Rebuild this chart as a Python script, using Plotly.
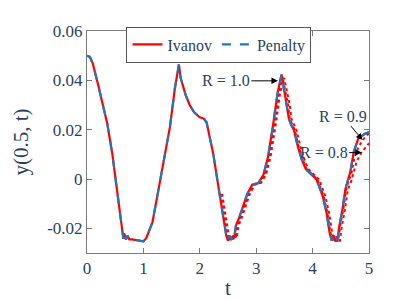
import plotly.graph_objects as go

# ---- data ----
t_main = [0, 0.05, 0.1, 0.15, 0.2, 0.25, 0.3, 0.36, 0.45, 0.55, 0.645, 0.66, 0.69, 0.72, 0.75,
          0.8, 0.9, 1.0, 1.05, 1.1, 1.16, 1.27, 1.38, 1.47, 1.56, 1.63, 1.66, 1.7, 1.75, 1.82,
          1.9, 2.0, 2.07, 2.12, 2.17, 2.24, 2.35, 2.47, 2.5, 2.53, 2.56, 2.59, 2.61, 2.64, 2.7,
          2.78, 2.84, 2.93, 3.04, 3.13, 3.21, 3.3, 3.38, 3.45, 3.5, 3.55, 3.58, 3.62, 3.67,
          3.74, 3.81, 3.88, 3.96, 4.07, 4.18, 4.25, 4.3, 4.34, 4.37, 4.4, 4.44, 4.47, 4.53,
          4.58, 4.62, 4.67, 4.73, 4.81, 4.93, 5.0]
y_ivanov = [0.05, 0.0495, 0.047, 0.043, 0.038, 0.033, 0.028, 0.0224, 0.010, -0.007, -0.0243,
            -0.022, -0.0245, -0.023, -0.0245, -0.0245, -0.025, -0.0253, -0.024, -0.021, -0.0176,
            -0.004, 0.009, 0.021, 0.037, 0.0464, 0.041, 0.038, 0.034, 0.030, 0.027, 0.025,
            0.0245, 0.023, 0.018, 0.010, -0.006, -0.023, -0.025, -0.023, -0.0245, -0.023,
            -0.024, -0.019, -0.0156, -0.010, -0.0062, -0.0023, -0.0016, 0.0018, 0.009, 0.022,
            0.035, 0.0424, 0.0358, 0.030, 0.0244, 0.022, 0.0198, 0.013, 0.0078, 0.004, 0.0024,
            -0.0002, -0.0069, -0.014, -0.0216, -0.025, -0.023, -0.025, -0.025, -0.0196,
            -0.0122, -0.0042, -0.001, 0.003, 0.011, 0.0164, 0.0184, 0.019]
y_penalty = [0.05, 0.0495, 0.047, 0.043, 0.038, 0.033, 0.028, 0.0224, 0.010, -0.007, -0.0243,
             -0.022, -0.0245, -0.023, -0.0245, -0.0245, -0.025, -0.0253, -0.024, -0.021, -0.0176,
             -0.004, 0.009, 0.021, 0.037, 0.0464, 0.041, 0.038, 0.034, 0.030, 0.027, 0.025,
             0.0245, 0.023, 0.018, 0.010, -0.006, -0.023, -0.025, -0.023, -0.0245, -0.023,
             -0.024, -0.019, -0.0156, -0.010, -0.0062, -0.0023, -0.0016, 0.0018, 0.009, 0.022,
             0.035, 0.0424, 0.0358, 0.030, 0.0244, 0.022, 0.0198, 0.013, 0.0078, 0.004, 0.0024,
             -0.0002, -0.0069, -0.014, -0.0216, -0.025, -0.023, -0.025, -0.025, -0.0196,
             -0.0122, -0.0042, -0.001, 0.003, 0.011, 0.0164, 0.0184, 0.019]

t_r09 = [2.37, 2.49, 2.52, 2.55, 2.58, 2.61, 2.63, 2.66, 2.72, 2.8, 2.86, 2.95, 3.06, 3.15,
         3.23, 3.32, 3.4, 3.465, 3.515, 3.565, 3.595, 3.635, 3.685, 3.755, 3.825, 3.895,
         3.975, 4.085, 4.195, 4.265, 4.315, 4.355, 4.385, 4.415, 4.455, 4.485, 4.545, 4.595,
         4.635, 4.685, 4.745, 4.825, 4.945, 5.0]
y_r09 = [-0.006, -0.023, -0.025, -0.023, -0.0245, -0.023, -0.024, -0.019, -0.0156, -0.010,
         -0.0062, -0.0023, -0.0016, 0.0018, 0.009, 0.022, 0.035, 0.0415, 0.0355, 0.030,
         0.0244, 0.022, 0.0198, 0.013, 0.0078, 0.004, 0.0024, -0.0002, -0.0069, -0.014,
         -0.0216, -0.025, -0.023, -0.025, -0.025, -0.0196, -0.0122, -0.0042, -0.001, 0.002,
         0.009, 0.0135, 0.0175, 0.0185]

t_r08 = [2.395, 2.515, 2.545, 2.575, 2.605, 2.635, 2.655, 2.685, 2.745, 2.825, 2.885, 2.975,
         3.085, 3.175, 3.255, 3.345, 3.425, 3.495, 3.545, 3.595, 3.625, 3.665, 3.715, 3.785,
         3.855, 3.925, 4.005, 4.115, 4.225, 4.295, 4.345, 4.385, 4.415, 4.445, 4.485, 4.515,
         4.575, 4.625, 4.67, 4.72, 4.78, 4.86, 4.94, 5.0]
y_r08 = [-0.006, -0.023, -0.025, -0.023, -0.0245, -0.023, -0.024, -0.019, -0.0156, -0.010,
         -0.0062, -0.0023, -0.0016, 0.0018, 0.009, 0.022, 0.035, 0.041, 0.0355, 0.030,
         0.0244, 0.022, 0.0198, 0.013, 0.0078, 0.004, 0.0024, -0.0002, -0.0069, -0.014,
         -0.0216, -0.025, -0.023, -0.025, -0.025, -0.0196, -0.0122, -0.0042, -0.002, 0.002,
         0.007, 0.0105, 0.013, 0.0145]

x_ticks = [0, 1, 2, 3, 4, 5]
y_ticks = [0.06, 0.04, 0.02, 0, -0.02]
y_ticklabels = ["0.06", "0.04", "0.02", "0", "-0.02"]

FONT = "Liberation Serif"
RED = "#ff0000"
BLUE = "#1f77c4"
AX = "#7a7a7a"

fig = go.Figure()
fig.add_trace(go.Scatter(x=t_r09, y=y_r09, mode="lines", showlegend=False,
                         line=dict(color=RED, width=2, dash="dot")))
fig.add_trace(go.Scatter(x=t_r08, y=y_r08, mode="lines", showlegend=False,
                         line=dict(color=RED, width=2, dash="dot")))
fig.add_trace(go.Scatter(x=t_main, y=y_ivanov, mode="lines", name="Ivanov",
                         line=dict(color=RED, width=2.2)))
fig.add_trace(go.Scatter(x=t_main, y=y_penalty, mode="lines", name="Penalty",
                         line=dict(color=BLUE, width=2.2, dash="dash")))

fig.add_annotation(x=3.385, y=0.0398, text="R = 1.0", showarrow=True,
                   ax=-52, ay=0, arrowhead=2, arrowsize=1.3, arrowwidth=1,
                   arrowcolor="#000000", font=dict(family=FONT, size=16))
fig.add_annotation(x=4.885, y=0.0158, text="R = 0.9", showarrow=True,
                   ax=-20, ay=-24, arrowhead=2, arrowsize=1.3, arrowwidth=1,
                   arrowcolor="#000000", font=dict(family=FONT, size=16))
fig.add_annotation(x=4.87, y=0.0107, text="R = 0.8", showarrow=True,
                   ax=-38, ay=0, arrowhead=2, arrowsize=1.3, arrowwidth=1,
                   arrowcolor="#000000", font=dict(family=FONT, size=16))

fig.update_xaxes(range=[0, 5], tickvals=x_ticks,
                 showline=True, linecolor=AX, linewidth=1, mirror="ticks",
                 ticks="inside", ticklen=5, tickcolor=AX, showgrid=False, zeroline=False,
                 tickfont=dict(family=FONT, size=17),
                 title=dict(text="t", font=dict(family=FONT, size=21), standoff=2))
fig.update_yaxes(range=[-0.03, 0.06], tickvals=y_ticks, ticktext=y_ticklabels,
                 showline=True, linecolor=AX, linewidth=1, mirror="ticks",
                 ticks="inside", ticklen=5, tickcolor=AX, showgrid=False, zeroline=False,
                 tickfont=dict(family=FONT, size=17),
                 title=dict(text="y(0.5, t)", font=dict(family=FONT, size=21),
                            standoff=12))

fig.update_layout(
    width=399, height=299,
    margin=dict(l=69, r=38, t=23, b=51),
    paper_bgcolor="white", plot_bgcolor="white",
    legend=dict(orientation="h", x=0.14, y=1.02, xanchor="left", yanchor="top",
                bgcolor="white", bordercolor="#555555", borderwidth=1,
                font=dict(family=FONT, size=16)),
)

fig.write_html("out.html")
